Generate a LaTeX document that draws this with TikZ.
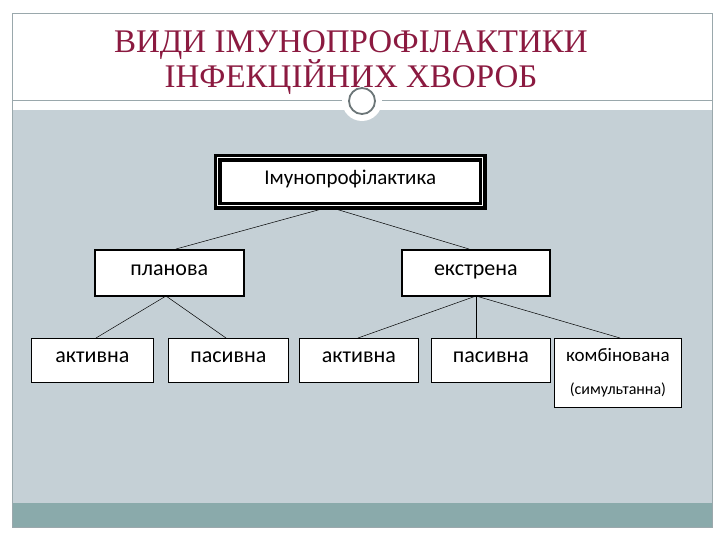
\documentclass[tikz,border=0pt]{standalone}
\usepackage{fontspec}
\setmainfont{Carlito}
\newfontfamily\titlefont{Liberation Serif}
\definecolor{titlered}{HTML}{8B1A40}
\definecolor{panel}{HTML}{C5D0D6}
\definecolor{band}{HTML}{8AAAAB}
\definecolor{frame}{HTML}{9AA8AC}
\begin{document}
\begin{tikzpicture}[x=1pt,y=-1pt,
  box/.style={draw=black,fill=white,line width=0.8pt,inner sep=0pt,anchor=north west,text height=0.75em,text depth=0.25em,font=\fontsize{22}{24}\selectfont},
  link/.style={draw=black,line width=0.5pt}]
\useasboundingbox (0,0) rectangle (720,540);
\fill[white] (0,0) rectangle (720,540);
\fill[panel] (12,110) rectangle (712,503);
\fill[band] (12,503) rectangle (712,527);
\draw[frame,line width=0.8pt] (12,13) rectangle (712,527);
\draw[frame,line width=0.8pt] (12,100) -- (712,100);
\fill[white] (362,101) circle (20);
\draw[frame!70!black,line width=1.8pt] (362,101) circle (13);
\node[text=titlered,font=\titlefont\fontsize{33}{35}\selectfont,align=center] (title) at (351,63) {ВИДИ ІМУНОПРОФІЛАКТИКИ\\ІНФЕКЦІЙНИХ ХВОРОБ};
% root
\node[box,minimum width=265pt,minimum height=48pt,line width=3.5pt,double=white,double distance=1pt,font=\fontsize{21}{23}\selectfont] (root) at (216,156) {Імунопрофілактика};
\node[box,minimum width=149pt,minimum height=46pt,line width=1.6pt] (plan) at (94,249) {планова};
\node[box,minimum width=148pt,minimum height=46pt,line width=1.6pt] (ext) at (401,249) {екстрена};
\node[box,minimum width=122pt,minimum height=44pt] (a1) at (31,338) {активна};
\node[box,minimum width=120pt,minimum height=44pt] (p1) at (168,338) {пасивна};
\node[box,minimum width=119pt,minimum height=44pt] (a2) at (299,338) {активна};
\node[box,minimum width=119pt,minimum height=44pt] (p2) at (431,338) {пасивна};
\node[box,minimum width=127pt,minimum height=69pt,align=center,text height=,text depth=,font=\fontsize{19}{33}\selectfont] (c) at (554,338) {комбінована\\{\fontsize{16}{18}\selectfont(симультанна)}};
\coordinate (rb) at (329,207);
\draw[link] (rb) -- (176,249);
\draw[link] (rb) -- (469,249);
\coordinate (pb) at (166,296);
\draw[link] (pb) -- (96,338);
\draw[link] (pb) -- (226,338);
\coordinate (eb) at (476,296);
\draw[link] (eb) -- (358,338);
\draw[link] (eb) -- (476,338);
\draw[link] (eb) -- (620,338);
\end{tikzpicture}
\end{document}
